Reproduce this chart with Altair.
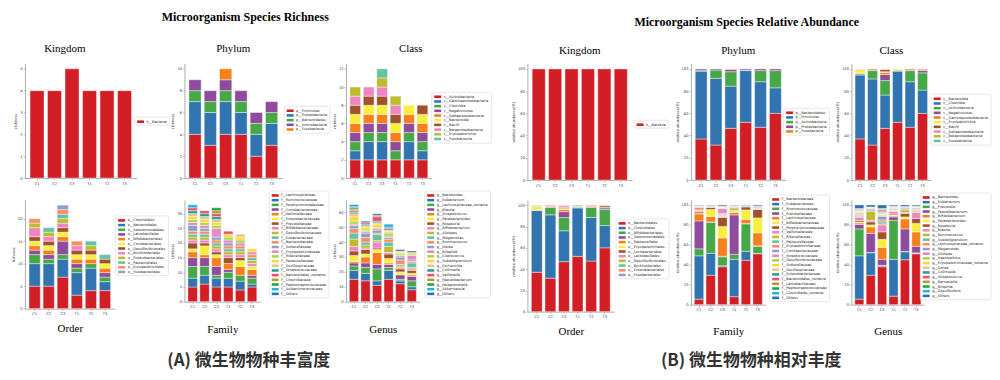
import altair as alt
import pandas as pd

SAMPLES = ["C1", "C2", "C3", "T1", "T2", "T3"]

PALETTE = ["#d21f26", "#3274b0", "#47a847", "#8f4b9c", "#f7801e", "#f7ef3c", "#a0522d",
           "#ef86bf", "#bdbb2f", "#66c2a5", "#fc8d62", "#8da0cb", "#e78ac3", "#a6d854",
           "#ffd92f", "#e5c494", "#29a08e", "#e8527a", "#b39a2b", "#25a244", "#1bb5e0",
           "#2c6fab"]

# ---------------- (A) richness ----------------
A_KINGDOM_TAXA = ["k__Bacteria"]
A_KINGDOM = [[4], [4], [5], [4], [4], [4]]

A_PHYLUM_TAXA = ["p__Firmicutes", "p__Proteobacteria", "p__Bacteroidetes",
                 "p__Actinobacteria", "p__Fusobacteria"]
A_PHYLUM = [[4, 3, 1, 1, 0], [3, 3, 1, 1, 0], [4, 3, 1, 1, 1],
            [4, 2, 1, 1, 0], [2, 2, 1, 1, 0], [3, 2, 1, 1, 0]]

A_CLASS_TAXA = ["c__Actinobacteria", "c__Gammaproteobacteria", "c__Clostridia",
                "c__Negativicutes", "c__Deltaproteobacteria", "c__Bacteroidia",
                "c__Bacilli", "c__Betaproteobacteria", "c__Erysipelotrichia",
                "c__Fusobacteriia"]
A_CLASS = [[2, 1, 1, 1, 1, 1, 1, 1, 1, 0], [2, 2, 1, 1, 1, 1, 1, 1, 0, 0],
           [2, 2, 1, 1, 1, 1, 1, 1, 1, 1], [2, 0, 1, 1, 1, 1, 1, 1, 1, 0],
           [2, 2, 1, 1, 1, 1, 0, 0, 0, 0], [2, 1, 1, 1, 1, 1, 1, 0, 0, 0]]

A_ORDER_TAXA = ["o__Clostridiales", "o__Bacteroidales", "o__Selenomonadales",
                "o__Lactobacillales", "o__Bifidobacteriales", "o__Coriobacteriales",
                "o__Desulfovibrionales", "o__Burkholderiales", "o__Enterobacteriales",
                "o__Pasteurellales", "o__Erysipelotrichales", "o__Fusobacteriales"]
A_ORDER = [[5, 5, 2, 1, 1, 1, 1, 2, 1, 0, 1, 0], [5, 5, 1, 1, 1, 1, 1, 1, 1, 1, 0, 0],
           [7, 4, 1, 3, 1, 1, 1, 1, 1, 1, 1, 1], [3, 5, 1, 1, 1, 1, 1, 1, 0, 0, 1, 0],
           [4, 5, 1, 0, 1, 1, 1, 0, 1, 1, 0, 0], [4, 2, 1, 1, 1, 1, 1, 0, 0, 1, 0, 0]]

A_FAMILY_TAXA = ["f__Lachnospiraceae", "f__Ruminococcaceae", "f__Porphyromonadaceae",
                 "f__Coriobacteriaceae", "f__Veillonellaceae", "f__Enterobacteriaceae",
                 "f__Prevotellaceae", "f__Bifidobacteriaceae", "f__Desulfovibrionaceae",
                 "f__Eubacteriaceae", "f__Bacteroidaceae", "f__Sutterellaceae",
                 "f__Erysipelotrichaceae", "f__Rikenellaceae", "f__Pasteurellaceae",
                 "f__Oscillospiraceae", "f__Streptococcaceae", "f__Bacteroidales_noname",
                 "f__Clostridiaceae", "f__Peptostreptococcaceae", "f__Acidaminococcaceae",
                 "f__Others"]
A_FAMILY = [[5, 3, 4, 3, 2, 1, 2, 1, 1, 1, 1, 2, 1, 1, 1, 1, 1, 1, 0, 0, 1, 0],
            [6, 3, 3, 3, 1, 3, 1, 1, 1, 1, 1, 1, 1, 1, 1, 1, 1, 1, 0, 0, 0, 0],
            [5, 3, 1, 3, 3, 1, 1, 1, 1, 1, 1, 1, 3, 1, 1, 1, 1, 1, 1, 1, 0, 0],
            [5, 3, 2, 1, 2, 0, 2, 1, 1, 1, 1, 1, 1, 1, 1, 0, 0, 1, 0, 0, 0, 0],
            [4, 3, 2, 0, 3, 2, 1, 1, 1, 1, 1, 0, 1, 1, 1, 1, 0, 0, 0, 0, 0, 0],
            [5, 1, 2, 1, 2, 1, 0, 1, 1, 1, 1, 0, 1, 0, 1, 0, 0, 0, 0, 0, 0, 0]]

A_GENUS_TAXA = ["g__Bacteroides", "g__Eubacterium", "g__Lachnospiraceae_noname",
                "g__Blautia", "g__Streptococcus", "g__Parabacteroides", "g__Roseburia",
                "g__Bifidobacterium", "g__Alistipes", "g__Megamonas", "g__Ruminococcus",
                "g__Dorea", "g__Bilophila", "g__Coprococcus", "g__Subdoligranulum",
                "g__Escherichia", "g__Collinsella", "g__Veillonella", "g__Faecalibacterium",
                "g__Paraprevotella", "g__Akkermansia", "g__Others"]
A_GENUS = [[15, 6, 3, 2, 1, 4, 3, 3, 5, 4, 3, 2, 1, 2, 3, 2, 1, 1, 1, 1, 1, 1],
           [14, 5, 4, 3, 4, 2, 3, 1, 2, 2, 3, 3, 1, 1, 2, 1, 1, 1, 0, 0, 0, 1],
           [11, 3, 8, 3, 8, 2, 1, 4, 1, 4, 1, 2, 1, 1, 2, 1, 1, 3, 1, 0, 0, 1],
           [15, 6, 2, 2, 1, 3, 3, 1, 4, 3, 2, 1, 1, 2, 1, 1, 1, 1, 0, 0, 2, 0],
           [12, 2, 1, 3, 0, 2, 2, 1, 1, 1, 3, 2, 1, 1, 1, 1, 0, 0, 0, 0, 0, 1],
           [8, 2, 4, 3, 1, 1, 2, 1, 1, 3, 1, 1, 3, 1, 1, 0, 0, 0, 0, 0, 0, 1]]

# ---------------- (B) relative abundance ----------------
B_KINGDOM_TAXA = ["k__Bacteria"]
B_KINGDOM = [[100], [100], [100], [100], [100], [100]]

B_PHYLUM_TAXA = ["p__Bacteroidetes", "p__Firmicutes", "p__Actinobacteria",
                 "p__Proteobacteria", "p__Fusobacteria"]
B_PHYLUM = [[37, 61, 1, 1, 0], [31.5, 60, 7.5, 1, 0], [46.5, 38, 13, 2, 0.5],
            [52, 46.5, 0.5, 1, 0], [47.5, 41, 10, 1.5, 0], [60, 23, 15.5, 1.5, 0]]

B_CLASS_TAXA = ["c__Bacteroidia", "c__Clostridia", "c__Actinobacteria", "c__Negativicutes",
                "c__Gammaproteobacteria", "c__Erysipelotrichia", "c__Bacilli",
                "c__Deltaproteobacteria", "c__Betaproteobacteria", "c__Fusobacteriia"]
B_CLASS = [[37, 57.5, 1, 0.5, 0.5, 3, 0, 0, 0.5, 0],
           [31.5, 59.5, 7.5, 0.5, 1, 0, 0, 0, 0, 0],
           [46.5, 30, 13, 5.5, 2, 0.5, 2, 0.5, 0, 0],
           [52, 46, 0.5, 0.5, 0, 1, 0, 0, 0, 0],
           [47.5, 41, 10, 0.5, 1, 0, 0, 0, 0, 0],
           [60, 21, 15.5, 2, 1, 0, 0.5, 0, 0, 0]]

B_ORDER_TAXA = ["o__Bacteroidales", "o__Clostridiales", "o__Bifidobacteriales",
                "o__Selenomonadales", "o__Pasteurellales", "o__Erysipelotrichales",
                "o__Coriobacteriales", "o__Lactobacillales", "o__Desulfovibrionales",
                "o__Burkholderiales", "o__Enterobacteriales", "o__Fusobacteriales"]
B_ORDER = [[37, 58, 0.5, 0.5, 0, 3, 0, 0.5, 0, 0.5, 0, 0],
           [31.5, 59.5, 7, 0.5, 0.5, 0, 0, 0, 0, 0, 1, 0],
           [47, 29, 12.5, 5.5, 2, 1, 1, 1.5, 0.5, 0, 0, 0],
           [52, 45.5, 0.5, 0.5, 0, 0.5, 0, 0, 0, 1, 0, 0],
           [47.5, 41, 9.5, 0.5, 0.5, 0, 0, 0, 0, 0, 1, 0],
           [60, 21, 15, 1.5, 0.5, 0, 1.5, 0, 0, 0, 0.5, 0]]

B_FAMILY_TAXA = ["f__Bacteroidaceae", "f__Eubacteriaceae", "f__Ruminococcaceae",
                 "f__Prevotellaceae", "f__Lachnospiraceae", "f__Bifidobacteriaceae",
                 "f__Porphyromonadaceae", "f__Veillonellaceae", "f__Rikenellaceae",
                 "f__Pasteurellaceae", "f__Erysipelotrichaceae", "f__Coriobacteriaceae",
                 "f__Streptococcaceae", "f__Desulfovibrionaceae", "f__Sutterellaceae",
                 "f__Oscillospiraceae", "f__Enterobacteriaceae", "f__Bacteroidales_noname",
                 "f__Lactobacillaceae", "f__Peptostreptococcaceae", "f__Clostridiales_noname",
                 "f__Others"]
B_FAMILY = [[5.5, 43.5, 7, 28, 7, 0.5, 1.5, 1, 0.5, 0.5, 2.5, 0.5, 0.5, 0.5, 0.5, 0, 0, 0, 0, 0, 0, 0.5],
            [29.5, 22, 31, 0.5, 5.5, 7, 2, 0.5, 0.5, 0.5, 0.5, 0, 0, 0, 0, 0, 0, 0, 0, 0, 0, 0.5],
            [38, 1, 9, 0.5, 18.5, 11.5, 9, 1, 0.5, 0.5, 1, 1, 5, 0.5, 0.5, 0.5, 0.5, 0.5, 0, 0, 0, 1],
            [8, 37.5, 5, 39.5, 2.5, 1, 0.5, 0.5, 2.5, 0.5, 0.5, 0.5, 0.5, 0, 0, 0.5, 0, 0, 0, 0, 0, 0.5],
            [44.5, 9, 27.5, 0.5, 4, 9.5, 3, 0.5, 0, 1, 0, 0, 0, 0, 0, 0, 0, 0, 0, 0, 0, 0.5],
            [51, 0.5, 7, 0.5, 13, 15, 8.5, 0.5, 0.5, 0.5, 0.5, 1, 0.5, 0, 0, 0, 0, 0, 0, 0, 0, 1]]

B_GENUS_TAXA = ["g__Bacteroides", "g__Eubacterium", "g__Prevotella", "g__Faecalibacterium",
                "g__Bifidobacterium", "g__Parabacteroides", "g__Roseburia", "g__Blautia",
                "g__Ruminococcus", "g__Subdoligranulum", "g__Lachnospiraceae_noname",
                "g__Megamonas", "g__Alistipes", "g__Haemophilus",
                "g__Erysipelotrichaceae_noname", "g__Dorea", "g__Collinsella",
                "g__Streptococcus", "g__Barnesiella", "g__Bilophila", "g__Desulfovibrio",
                "g__Others"]
B_GENUS = [[5.5, 43.5, 27, 4.5, 1.5, 1, 1.5, 3, 1, 1, 1, 0.5, 1, 0.5, 1, 0.5, 0.5, 0.5, 0.5, 0.5, 0.5, 3.5],
           [29.5, 22.5, 0.5, 19, 6.5, 2, 3, 1.5, 9, 1.5, 1, 0.5, 0.5, 0.5, 0.5, 0, 0, 0, 0, 0, 0, 2],
           [38, 1, 0.5, 6, 12, 8, 7.5, 7, 1, 2, 2, 3.5, 1, 1, 1, 1, 1, 1.5, 0.5, 0.5, 0.5, 3.5],
           [8.5, 37, 39, 3.5, 1, 1, 1, 2.5, 0.5, 0.5, 0.5, 0.5, 1, 0.5, 0.5, 0.5, 0.5, 0.5, 0, 0, 0, 1],
           [45, 8, 0.5, 22.5, 10, 2, 3.5, 1, 2.5, 1, 1, 0.5, 0.5, 0, 0, 0.5, 0, 0, 0, 0, 0, 1.5],
           [51, 0.5, 0.5, 6.5, 14.5, 8.5, 5, 6, 1, 1, 1, 0.5, 1, 0.5, 0.5, 0.5, 0.5, 0, 0, 0, 0, 1]]

HEADING_A = "Microorganism Species Richness"
HEADING_B = "Microorganism Species Relative Abundance"
CAPTION_A = "(A) 微生物物种丰富度"
CAPTION_B = "(B) 微生物物种相对丰度"

SERIF = "Liberation Serif"
SANS = "DejaVu Sans"
CJK = "Noto Sans CJK SC"
SYMBOL = "M-1.4,-0.52H1.4V0.52H-1.4Z"


def panel(taxa, stacks, width, height, yticks, ytitle, lx, ly,
          title=None, tdx=0, toffset=9, xtitle=None, xpad=8):
    rows = []
    for s, stack in zip(SAMPLES, stacks):
        for rank, (taxon, v) in enumerate(zip(taxa, stack)):
            if v > 0:
                rows.append({"sample": s, "taxon": taxon, "value": v, "rank": rank})
    df = pd.DataFrame(rows)
    ymax = max(sum(st) for st in stacks) * 1.05
    if xtitle:
        xaxis = alt.Axis(title=xtitle, labelAngle=0, titleFont=SERIF, titleFontSize=11,
                         titleFontWeight="normal", titleColor="black", titlePadding=xpad)
    else:
        xaxis = alt.Axis(title=None, labelAngle=0)
    ch = alt.Chart(df).mark_bar(stroke="white", strokeWidth=0.4).encode(
        x=alt.X("sample:N", sort=SAMPLES,
                scale=alt.Scale(domain=SAMPLES, paddingInner=0.2, paddingOuter=0.29),
                axis=xaxis),
        y=alt.Y("value:Q", stack="zero",
                scale=alt.Scale(domain=[0, ymax], nice=False),
                axis=alt.Axis(values=yticks, title=ytitle)),
        color=alt.Color("taxon:N",
                        scale=alt.Scale(domain=taxa, range=PALETTE[:len(taxa)]),
                        legend=alt.Legend(title=None, orient="none", legendX=lx, legendY=ly,
                                          symbolType=SYMBOL, symbolSize=25,
                                          symbolStrokeWidth=0)),
        order=alt.Order("rank:Q", sort="ascending"),
    ).properties(width=width, height=height)
    if title:
        ch = ch.properties(title=alt.TitleParams(text=title, font=SERIF, fontSize=11,
                                                 fontWeight="normal", color="black",
                                                 anchor="middle", frame="group",
                                                 offset=toffset, dx=tdx))
    return ch


SPACER_DF = pd.DataFrame({"v": [0]})


def spacer(width, height, title=None):
    ch = alt.Chart(SPACER_DF).mark_point(opacity=0).encode(
        x=alt.X("v:Q", axis=None), y=alt.Y("v:Q", axis=None)
    ).properties(width=width, height=height)
    if title is not None:
        ch = ch.properties(title=title)
    return ch


def heading(text, dx, offset):
    return alt.TitleParams(text=text, font=SERIF, fontSize=12, fontWeight="bold",
                           color="black", anchor="middle", offset=offset, dx=dx)


def caption(text, dx, offset):
    return alt.TitleParams(text=text, font=CJK, fontSize=17, fontWeight="bold",
                           color="#333333", anchor="middle", orient="bottom",
                           offset=offset, dx=dx)


RICH = "richness"
REL = "relative abundance(%)"
T5 = [0, 1, 2, 3, 4, 5]
T10 = [0, 2, 4, 6, 8, 10]
T12 = [0, 2, 4, 6, 8, 10, 12]
T20 = [0, 5, 10, 15, 20]
T30 = [0, 5, 10, 15, 20, 25, 30]
T60 = [0, 10, 20, 30, 40, 50, 60]
T100 = [0, 20, 40, 60, 80, 100]

row1 = [
    panel(A_KINGDOM_TAXA, A_KINGDOM, 112, 115, T5, RICH, 110, 54, "Kingdom", -16, 9),
    spacer(48, 115, heading(HEADING_A, 85, 39.5)),
    panel(A_PHYLUM_TAXA, A_PHYLUM, 98, 115, T10, RICH, 100, 43, "Phylum", 0, 9),
    spacer(64, 115),
    panel(A_CLASS_TAXA, A_CLASS, 86, 115, T12, RICH, 86, 29, "Class", 22, 9),
    spacer(96, 115),
    panel(B_KINGDOM_TAXA, B_KINGDOM, 105, 117, T100, REL, 107, 57, "Kingdom", 0, 7),
    spacer(59, 115, heading(HEADING_B, 85.5, 34.5)),
    panel(B_PHYLUM_TAXA, B_PHYLUM, 95, 117, T100, REL, 93, 45, "Phylum", 0, 7),
    spacer(66, 115),
    panel(B_CLASS_TAXA, B_CLASS, 80, 117, T100, REL, 80, 31, "Class", 0, 7),
]
row2 = [
    panel(A_ORDER_TAXA, A_ORDER, 90, 109, T20, RICH, 91, 16, xtitle="Order", xpad=7.5),
    spacer(48, 102, caption(CAPTION_A, 88.5, 52)),
    panel(A_FAMILY_TAXA, A_FAMILY, 76, 102, T30, RICH, 85, -9, xtitle="Family", xpad=15),
    spacer(64, 102),
    panel(A_GENUS_TAXA, A_GENUS, 74, 102, T60, RICH, 79, -9, xtitle="Genus", xpad=15),
    spacer(96, 102),
    panel(B_ORDER_TAXA, B_ORDER, 87, 112, T100, REL, 89, 19, xtitle="Order", xpad=7),
    spacer(59, 102, caption(CAPTION_B, 90, 52)),
    panel(B_FAMILY_TAXA, B_FAMILY, 75, 105, T100, REL, 79, -5, xtitle="Family", xpad=14),
    spacer(66, 102),
    panel(B_GENUS_TAXA, B_GENUS, 73, 105, T100, REL, 69, -7, xtitle="Genus", xpad=14),
]

chart = alt.concat(
    *(row1 + row2), columns=11, spacing={"row": 20, "column": 0},
    bounds="flush", align="each"
).resolve_scale(
    color="independent", x="independent", y="independent"
).properties(
    padding={"left": 2, "top": 2, "right": 0, "bottom": 0}
).configure_view(
    stroke="transparent"
).configure_axis(
    domainColor="#999999", domainWidth=0.8, tickColor="#999999", tickWidth=0.6,
    tickSize=2, labelFont=SANS, labelFontSize=3.6, labelColor="#333333",
    labelPadding=1, titleFont=SANS, titleFontSize=3.6, titleFontWeight="normal",
    titleColor="#333333", titlePadding=2, grid=False
).configure_legend(
    labelFont=SANS, labelFontSize=3.5, labelColor="#222222", rowPadding=0.7,
    padding=2, strokeColor="#cfcfcf", strokeWidth=0.5, fillColor="white",
    cornerRadius=1.5, symbolOffset=1.5, labelOffset=3.5, labelLimit=300
)

chart.save("out.html", embed_options={"renderer": "svg", "actions": False})
